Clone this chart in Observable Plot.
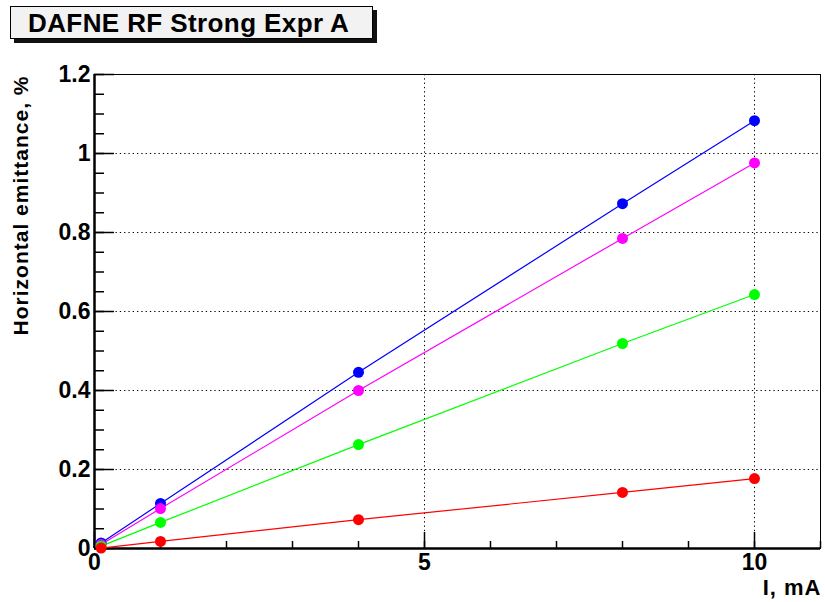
<!DOCTYPE html>
<html>
<head>
<meta charset="utf-8">
<script src="https://cdn.jsdelivr.net/npm/d3@7"></script>
<script src="https://cdn.jsdelivr.net/npm/@observablehq/plot@0.6"></script>
<style>
  html, body { margin: 0; padding: 0; background: #fff; }
  #wrap { position: relative; width: 825px; height: 602px; }
  #title {
    position: absolute; left: 10px; top: 6px; width: 344px; height: 31px;
    background: #f2f2f2; border: 1px solid #000; box-shadow: 4px 4px 0 #111;
    font-family: "Liberation Sans", Arial, sans-serif; font-weight: bold; font-size: 26px;
    letter-spacing: 0.4px;
    line-height: 32px; padding-left: 17px; box-sizing: content-box; white-space: nowrap; z-index: 2;
  }
</style>
</head>
<body>
<div id="wrap"><div id="title">DAFNE RF Strong Expr A</div></div>
<script>
// Data
const current = [0.1, 1, 4, 8, 10];
const seriesNames = ["series 1", "series 2", "series 3", "series 4"];
const seriesColors = ["#0000ff", "#ff00ff", "#00ff00", "#ff0000"];
const series1Values = [0.014, 0.114, 0.446, 0.873, 1.083];
const series2Values = [0.010, 0.101, 0.400, 0.785, 0.976];
const series3Values = [0.006, 0.066, 0.263, 0.519, 0.643];
const series4Values = [0.001, 0.018, 0.073, 0.142, 0.177];
const xMajorTicks = [0, 5, 10];
const xMinorTicks = [0, 1, 2, 3, 4, 5, 6, 7, 8, 9, 10, 11];
const yMajorTicks = [0, 0.2, 0.4, 0.6, 0.8, 1, 1.2];
const yMinorTicks = d3.range(0, 1.2001, 0.05);
const xLabel = "I, mA";
const yLabel = "Horizontal emittance, %";

const allValues = [series1Values, series2Values, series3Values, series4Values];
const rows = [];
seriesNames.forEach((s, i) => current.forEach((x, j) => rows.push({series: s, x, y: allValues[i][j]})));

const W = 825, H = 602, mL = 94, mR = 5, mT = 74, mB = 54;
const plotW = W - mL - mR, plotH = H - mT - mB;

const chart = Plot.plot({
  width: W, height: H,
  marginLeft: mL, marginRight: mR, marginTop: mT, marginBottom: mB,
  style: {fontFamily: "'Liberation Sans', Arial, sans-serif", fontWeight: "bold", fontSize: "23px", background: "white", color: "black"},
  x: {domain: [0, 11]},
  y: {domain: [0, 1.2]},
  color: {domain: seriesNames, range: seriesColors},
  marks: [
    Plot.gridX(xMajorTicks.filter(d => d > 0), {stroke: "black", strokeOpacity: 1, strokeDasharray: "1.3,3", strokeWidth: 1}),
    Plot.gridY(yMajorTicks.filter(d => d > 0), {stroke: "black", strokeOpacity: 1, strokeDasharray: "1.3,3", strokeWidth: 1}),
    Plot.frame({stroke: "black", strokeWidth: 1}),
    Plot.tickX(xMinorTicks, {x: d => d, insetTop: plotH - 7, stroke: "black", strokeWidth: 1.5}),
    Plot.tickX(xMajorTicks, {x: d => d, insetTop: plotH - 16, stroke: "black", strokeWidth: 1.5}),
    Plot.tickY(yMinorTicks, {y: d => d, insetRight: plotW - 10, stroke: "black", strokeWidth: 1.5}),
    Plot.tickY(yMajorTicks, {y: d => d, insetRight: plotW - 20, stroke: "black", strokeWidth: 1.5}),
    Plot.ruleX([0], {stroke: "black", strokeWidth: 2.5}),
    Plot.ruleY([0], {stroke: "black", strokeWidth: 2.5}),
    Plot.axisX(xMajorTicks, {tickSize: 0, tickPadding: 5, fontSize: 23, fontWeight: "bold", label: null, tickFormat: d => String(d)}),
    Plot.axisY(yMajorTicks, {tickSize: 0, tickPadding: 4, fontSize: 23, fontWeight: "bold", label: null, tickFormat: d => String(d)}),
    Plot.line(rows, {x: "x", y: "y", z: "series", stroke: "series", strokeWidth: 1.2}),
    Plot.dot(rows, {x: "x", y: "y", fill: "series", r: 5.5}),
    Plot.text([xLabel], {text: d => d, frameAnchor: "bottom-right", textAnchor: "end", lineAnchor: "bottom", dy: 46, dx: 1, fontSize: 22, fontWeight: "bold"}),
    Plot.text([yLabel], {text: d => d, frameAnchor: "top-left", textAnchor: "end", lineAnchor: "middle", rotate: -90, dx: -73, dy: 1, fontSize: 21, fontWeight: "bold"})
  ]
});
document.getElementById("wrap").prepend(chart);
chart.style.position = "absolute"; chart.style.left = "0"; chart.style.top = "0";
// slightly wider tracking on the axis titles, as in the reference
chart.querySelectorAll("text").forEach(t => {
  if (t.textContent === yLabel) t.setAttribute("letter-spacing", "1");
  if (t.textContent === xLabel) t.setAttribute("letter-spacing", "1");
});
</script>
</body>
</html>
